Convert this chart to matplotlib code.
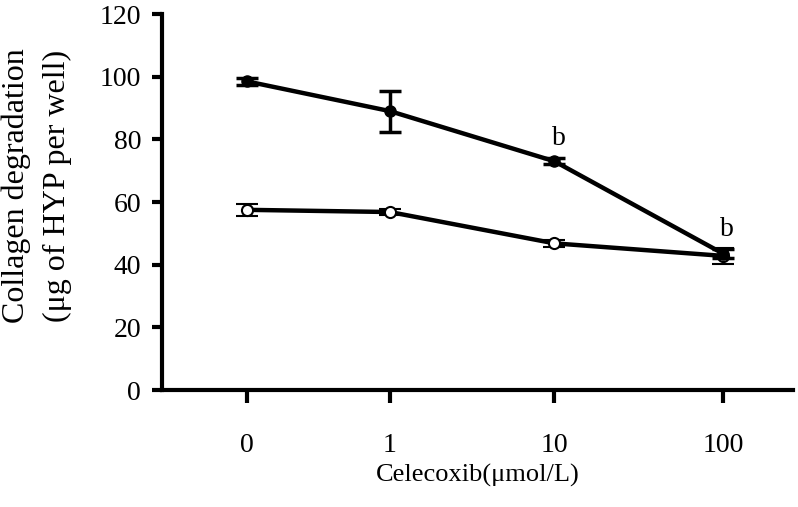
import matplotlib
matplotlib.use("Agg")
import matplotlib.pyplot as plt

# data
categories = ["0", "1", "10", "100"]
tick_pos = [0, 1, 2.15, 3.33]
series_filled = [98.5, 89.0, 73.0, 43.5]
err_filled = [1.0, 6.5, 1.0, 1.5]
series_open = [57.5, 56.8, 46.8, 42.8]
err_open = [2.0, 1.0, 1.2, 2.5]
annot_idx = [2, 3]
annot_text = ["b", "b"]
yticks = [0, 20, 40, 60, 80, 100, 120]

plt.rcParams['font.family'] = ['Liberation Serif', 'DejaVu Serif']

fig = plt.figure(figsize=(7.98, 5.07), dpi=100)
ax = fig.add_axes([162/798, 1-390/507, (793-162)/798, (390-14)/507])

ax.errorbar(tick_pos, series_open, yerr=err_open, color='black', lw=3.2,
            marker='o', ms=8, mfc='white', mec='black', mew=1.5,
            capsize=8, capthick=2.5, elinewidth=2.5, zorder=3)
ax.errorbar(tick_pos, series_filled, yerr=err_filled, color='black', lw=3.2,
            marker='o', ms=8, mfc='black', mec='black',
            capsize=8, capthick=2.5, elinewidth=2.5, zorder=4)

for i, t in zip(annot_idx, annot_text):
    ax.annotate(t, (tick_pos[i], series_filled[i] + err_filled[i]),
                xytext=(3, 5), textcoords='offset points',
                ha='center', va='bottom', fontsize=20)

ax.set_xlim(-85/143, (793-247)/143)
ax.set_ylim(0, 120)
ax.set_yticks(yticks)
ax.set_xticks(tick_pos)
ax.set_xticklabels(categories)

for s in ['top', 'right']:
    ax.spines[s].set_visible(False)
for s in ['left', 'bottom']:
    ax.spines[s].set_linewidth(3)
ax.spines['left'].set_bounds(0, 120)

ax.tick_params(axis='y', direction='out', length=7, width=3, labelsize=20, pad=8)
ax.tick_params(axis='x', direction='out', length=9, width=3, labelsize=20, pad=22)

ax.set_xlabel("Celecoxib(μmol/L)", fontsize=19, labelpad=4)

fig.text(16/798, 1-186/507, "Collagen degradation", rotation=90,
         ha='center', va='center', fontsize=23)
fig.text(57/798, 1-186/507, "(μg of HYP per well)", rotation=90,
         ha='center', va='center', fontsize=23)

fig.savefig("out.png", dpi=100)
